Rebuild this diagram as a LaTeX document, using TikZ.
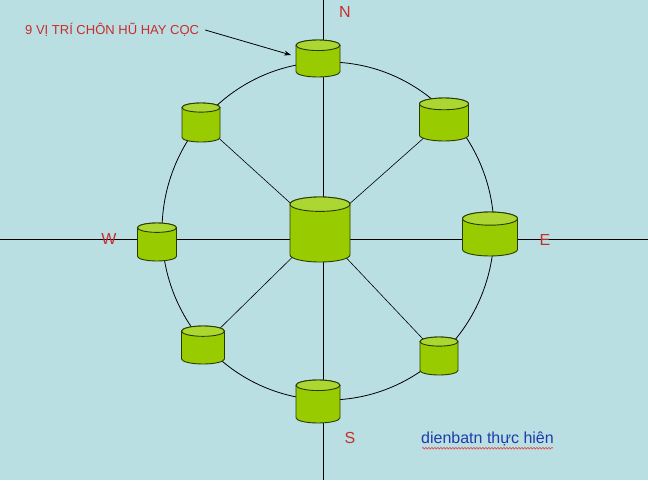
\documentclass[tikz,border=0pt]{standalone}
\usepackage{fontspec}
\setmainfont{Liberation Sans}
\usetikzlibrary{arrows.meta,decorations.pathmorphing}
\definecolor{bg}{RGB}{186,223,227}
\definecolor{cylgreen}{RGB}{153,204,0}
\definecolor{cyltopc}{RGB}{172,214,50}
\definecolor{cyledge}{RGB}{40,60,0}
\definecolor{lblred}{RGB}{200,45,45}
\definecolor{lblblue}{RGB}{30,60,170}
\tikzset{
  cylbody/.style={fill=cylgreen,draw=cyledge,line width=0.9pt},
  cyltop/.style={fill=cyltopc,draw=cyledge,line width=0.9pt},
  axis/.style={draw=black,line width=0.7pt},
  ring/.style={draw=black,line width=0.8pt},
  spoke/.style={draw=black,line width=0.6pt},
  dirlbl/.style={text=lblred,font=\fontsize{16}{16}\selectfont,inner sep=0pt},
}
\newcommand\cylinderat[5]{% name, cx, top, bottom, width
  \pgfmathsetmacro\cyW{#5/2}%
  \pgfmathsetmacro\cyR{0.12*#5}%
  \pgfmathsetmacro\cyT{#3+\cyR}%
  \pgfmathsetmacro\cyB{#4-\cyR}%
  \draw[cylbody] (#2-\cyW,\cyT) -- (#2-\cyW,\cyB)
     arc[start angle=180,end angle=0,x radius=\cyW,y radius=\cyR]
     -- (#2+\cyW,\cyT)
     arc[start angle=0,end angle=-180,x radius=\cyW,y radius=\cyR] -- cycle;
  \draw[cyltop] (#2,\cyT) ellipse[x radius=\cyW,y radius=\cyR];
}
\begin{document}
\begin{tikzpicture}[x=1pt,y=-1pt]
\fill[bg] (0,0) rectangle (648,480);
\useasboundingbox (0,0) rectangle (648,480);
% axes
\coordinate (axT) at (323,0);
\coordinate (axB) at (323,480);
\coordinate (axL) at (0,239);
\coordinate (axR) at (648,239);
\draw[axis] (axT) -- (axB);
\draw[axis] (axL) -- (axR);
% ring
\coordinate (ringc) at (328,231);
\draw[ring] (ringc) ellipse[x radius=166,y radius=169];
% positions
\coordinate (n) at (318,58);
\coordinate (ne) at (444,120);
\coordinate (nw) at (201,122);
\coordinate (w) at (157,242);
\coordinate (c) at (320,230);
\coordinate (e) at (490,234);
\coordinate (sw) at (203,345);
\coordinate (se) at (439,356);
\coordinate (s) at (318,402);
% spokes
\draw[spoke] (c) -- (nw);
\draw[spoke] (c) -- (ne);
\draw[spoke] (c) -- (sw);
\draw[spoke] (c) -- (se);
% cylinders
\cylinderat{n}{318}{40}{77}{44}
\cylinderat{ne}{444}{98}{141}{49}
\cylinderat{nw}{201}{103}{142}{38}
\cylinderat{w}{157}{223}{261}{39}
\cylinderat{c}{320}{197}{262}{60}
\cylinderat{e}{490}{212}{256}{55}
\cylinderat{sw}{203}{326}{364}{43}
\cylinderat{se}{439}{337}{375}{38}
\cylinderat{s}{318}{380}{423}{44}
% labels
\node[dirlbl] (lN) at (345,12) {N};
\node[dirlbl] (lW) at (109,239) {W};
\node[dirlbl] (lE) at (545,240) {E};
\node[dirlbl] (lS) at (350,438) {S};
\node[text=lblred,font=\fontsize{13}{13}\selectfont,inner sep=1pt,anchor=west] (title) at (24,30) {9 VỊ TRÍ CHÔN HŨ HAY CỌC};
\coordinate (arrtip) at (291,55);
\draw[-{Stealth[length=7pt,width=5pt]},line width=0.8pt] (title.east) ++(5,0) -- (arrtip);
\node[text=lblblue,font=\fontsize{16}{16}\selectfont,inner sep=1pt,anchor=west] (credit) at (420,439) {dienbatn thực hiên};
\draw[red,line width=0.4pt,decorate,decoration={snake,amplitude=0.8pt,segment length=3pt}] ([xshift=2pt,yshift=-1pt]credit.south west) -- ([xshift=-2pt,yshift=-1pt]credit.south east);
\end{tikzpicture}
\end{document}
